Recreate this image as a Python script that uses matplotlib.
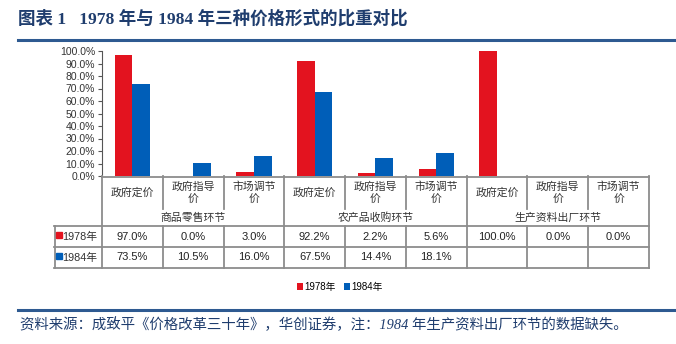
import matplotlib
matplotlib.use("Agg")
import matplotlib.pyplot as plt
from matplotlib.lines import Line2D

plt.rcParams['font.family'] = ['Noto Sans CJK SC', 'DejaVu Sans']

# data
categories = ['政府定价', '政府指导\n价', '市场调节\n价'] * 3
groups = ['商品零售环节', '农产品收购环节', '生产资料出厂环节']
years = ['1978年', '1984年']
share_1978 = [97.0, 0.0, 3.0, 92.2, 2.2, 5.6, 100.0, 0.0, 0.0]
share_1984 = [73.5, 10.5, 16.0, 67.5, 14.4, 18.1, None, None, None]
colors = ['#E3131F', '#005EB8']
yticks = [0, 10, 20, 30, 40, 50, 60, 70, 80, 90, 100]

W, H = 676, 344
fig = plt.figure(figsize=(W / 100, H / 100), dpi=100)


def px(x0, y0, x1, y1):
    # pixel box (top-left origin) -> figure fraction rect
    return [x0 / W, 1 - y1 / H, (x1 - x0) / W, (y1 - y0) / H]


# title + rules
fig.text(18 / W, 1 - 19 / H, '图表 1   1978 年与 1984 年三种价格形式的比重对比',
         family=['Liberation Serif', 'Noto Sans CJK SC'], fontweight='bold',
         fontsize=12.6, color='#1F3D6E', va='center', ha='left')
fig.add_artist(Line2D([18 / W, 1], [1 - 40 / H] * 2, color='#2E5A91', lw=2.2))
fig.add_artist(Line2D([18 / W, 1], [1 - 310 / H] * 2, color='#2E5A91', lw=2.2))
fig.text(20 / W, 1 - 325 / H,
         '资料来源：成致平《价格改革三十年》，华创证券，注：1984 年生产资料出厂环节的数据缺失。',
         family=['Liberation Serif', 'Noto Sans CJK SC'], style='italic',
         fontsize=10.4, color='#1F3D6E', va='center', ha='left')

# bar chart
ax = fig.add_axes(px(102, 51, 649, 176))
n = len(categories)
x = list(range(n))
bw = 0.29
ax.bar([i - bw / 2 for i in x], share_1978, width=bw, color=colors[0], label=years[0])
ax.bar([i + bw / 2 for i in x], [v if v is not None else 0 for v in share_1984],
       width=bw, color=colors[1], label=years[1])
ax.set_xlim(-0.5, n - 0.5)
ax.set_ylim(0, 100)
ax.set_yticks(yticks)
ax.set_yticklabels([f'{t:.1f}%' for t in yticks], fontsize=7.5, color='#333333',
                   family=['Liberation Sans', 'DejaVu Sans'])
ax.set_xticks([])
for s in ['top', 'right', 'bottom']:
    ax.spines[s].set_visible(False)
ax.spines['left'].set_color('#555555')
ax.tick_params(axis='y', direction='out', length=3, color='#555555', pad=2)

# table under the chart
tb = fig.add_axes(px(54, 176, 649, 268))
unit = 547 / n
left = -0.5 - (102 - 54) / unit
tb.set_xlim(left, n - 0.5)
tb.set_ylim(268, 176)
tb.axis('off')
gc = '#8C8C8C'
lw = 1.3
for yy in [226, 247, 267.5]:
    tb.plot([left, n - 0.5], [yy, yy], color=gc, lw=lw, clip_on=False)
tb.plot([-0.5, n - 0.5], [176.5, 176.5], color=gc, lw=lw, clip_on=False)
tb.plot([left + 0.01, left + 0.01], [226, 268], color=gc, lw=lw, clip_on=False)
for i in range(n + 1):
    xx = i - 0.5
    if i % 3 == 0:
        tb.plot([xx, xx], [176, 268], color=gc, lw=lw, clip_on=False)
    else:
        tb.plot([xx, xx], [176, 209], color=gc, lw=lw, clip_on=False)
        tb.plot([xx, xx], [226, 268], color=gc, lw=lw, clip_on=False)

for i, c in enumerate(categories):
    tb.text(i, 193, c, ha='center', va='center', fontsize=7.8, color='#333333',
            linespacing=1.3)
for g, name in enumerate(groups):
    tb.text(g * 3 + 1, 218, name, ha='center', va='center', fontsize=7.8,
            color='#333333')

rows = [share_1978, share_1984]
row_y = [236.5, 257.5]
for r, vals in enumerate(rows):
    tb.plot(left + 0.075, row_y[r] - 1.5, marker='s', ms=4, color=colors[r],
            clip_on=False)
    tb.text(left + 0.13, row_y[r], years[r], ha='left', va='center', fontsize=7.8,
            color='#333333', family=['Liberation Sans', 'Noto Sans CJK SC'])
    for i, v in enumerate(vals):
        if v is None:
            continue
        tb.text(i, row_y[r], f'{v:.1f}%', ha='center', va='center', fontsize=8,
                color='#222222', family=['Liberation Sans', 'DejaVu Sans'])

# legend
fig.legend(loc='center', bbox_to_anchor=(340 / W, 1 - 287 / H), ncol=2, frameon=False,
           handlelength=0.6, handleheight=0.6, handletextpad=0.2,
           columnspacing=0.8, prop={'family': ['Liberation Sans', 'Noto Sans CJK SC'],
                                    'size': 7})

fig.savefig('out.png', dpi=100)
